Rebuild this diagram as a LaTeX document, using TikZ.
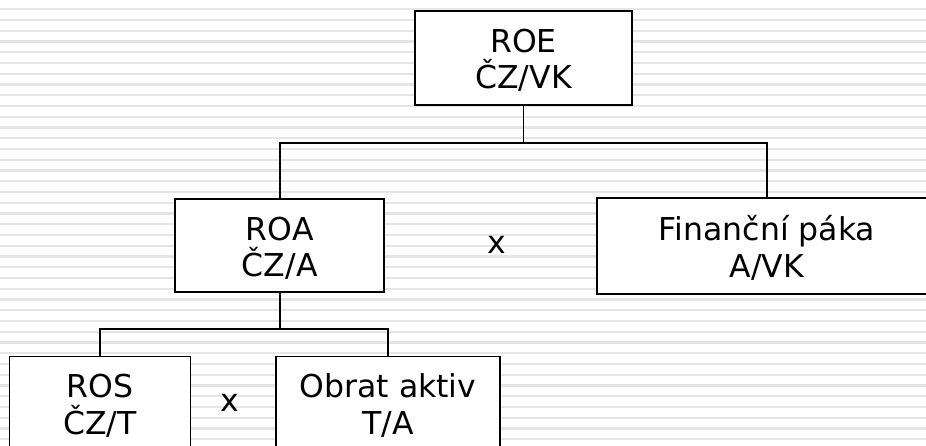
\documentclass[tikz,border=0pt]{standalone}
\usepackage{fontspec}
\setmainfont{DejaVu Sans}
\begin{document}
\begin{tikzpicture}[x=1pt,y=-1pt,
  box/.style={draw=black, line width=1.8pt, fill=white, inner sep=0pt, align=center,
    text height=65pt, text depth=3pt,
    font=\fontsize{31.5}{36.3}\selectfont},
  openbox/.style={box, draw=none},
  conn/.style={draw=black, line width=1.8pt},
  mult/.style={inner sep=0pt, font=\fontsize{31.5}{36.3}\selectfont},
  stripe/.style={draw=black!10, line width=2.3pt}]
\useasboundingbox (0,0) rectangle (926,446);
\fill[white] (-20,-20) rectangle (960,470);
\foreach \k in {-2,...,43} \draw[stripe] (-20,{9.25+10.75*\k}) -- (960,{9.25+10.75*\k});
\node[box, minimum width=217pt, minimum height=94pt] (roe) at (523.5,58) {ROE\\ČZ/VK};
\node[box, minimum width=209pt, minimum height=93pt] (roa) at (279.7,245.7) {ROA\\ČZ/A};
\node[openbox, minimum width=338pt, minimum height=94pt] (fin) at (767,246) {Finanční páka\\A/VK};
\draw[conn] ([xshift=20pt]fin.north east) -- (fin.north west) -- (fin.south west) -- ([xshift=20pt]fin.south east);
\node[box, minimum width=181pt, minimum height=93pt] (ros) at (100,403) {ROS\\ČZ/T};
\node[box, minimum width=224pt, minimum height=93pt] (obr) at (388,403) {Obrat aktiv\\T/A};
\node[mult] (x1) at (497,245) {x};
\node[mult] (x2) at (230,403) {x};
\coordinate (j1) at (523.5,143);
\coordinate (j2) at (279.7,329);
\draw[conn] (roe.south) -- (j1);
\draw[conn] (roa.north) -- (roa.north |- j1) -- (fin.north |- j1) -- (fin.north);
\draw[conn] (roa.south) -- (j2);
\draw[conn] (ros.north) -- (ros.north |- j2) -- (obr.north |- j2) -- (obr.north);
\end{tikzpicture}
\end{document}
